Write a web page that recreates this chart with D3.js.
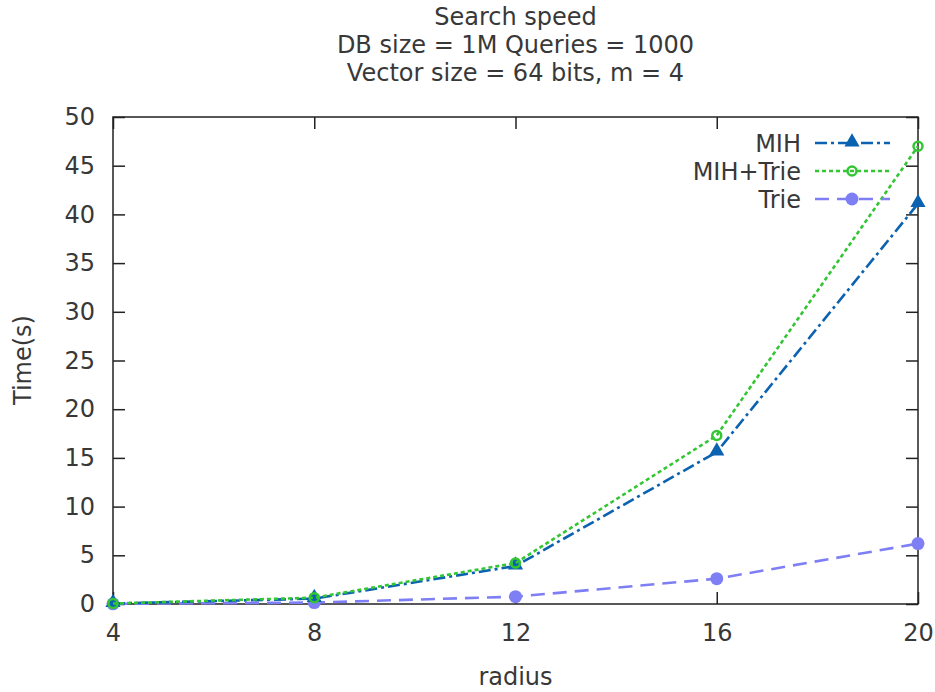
<!DOCTYPE html>
<html>
<head>
<meta charset="utf-8">
<script src="https://cdn.jsdelivr.net/npm/d3@7"></script>
<style>
  body { margin: 0; background: #fff; }
  text { font-family: "DejaVu Sans", sans-serif; fill: #383838; }
</style>
</head>
<body>
<svg id="chart" width="935" height="692"></svg>
<script>
// data
const radius = [4, 8, 12, 16, 20];
const mih = [0.05, 0.55, 3.9, 15.6, 41.1];
const mihTrie = [0.05, 0.65, 4.2, 17.3, 47.0];
const trie = [0.02, 0.15, 0.75, 2.6, 6.2];
const yTicks = [0, 5, 10, 15, 20, 25, 30, 35, 40, 45, 50];
const titleLines = ['Search speed', 'DB size = 1M Queries = 1000', 'Vector size = 64 bits, m = 4'];

const series = [
  { name: 'MIH', values: mih, color: '#0a62b0', dash: '12,4,3,4', marker: 'triangle' },
  { name: 'MIH+Trie', values: mihTrie, color: '#33c633', dash: '4,3', marker: 'ring' },
  { name: 'Trie', values: trie, color: '#7f7ff5', dash: '14,8', marker: 'dot' }
];

const margin = { left: 113, right: 17, top: 117, bottom: 88 };
const width = 935, height = 692;
const fs = 24;

const svg = d3.select('#chart');

const x = d3.scaleLinear().domain([4, 20]).range([margin.left, width - margin.right]);
const y = d3.scaleLinear().domain([0, 50]).range([height - margin.bottom, margin.top]);

// title
svg.append('g')
  .selectAll('text')
  .data(titleLines)
  .join('text')
    .attr('x', (margin.left + width - margin.right) / 2)
    .attr('y', function(d, i) { return 25 + i * 28; })
    .attr('text-anchor', 'middle')
    .attr('font-size', fs)
    .text(function(d) { return d; });

// axes with inward ticks, mirrored on top/right
const tickLen = 12;
function styleAxis(g) {
  g.select('.domain').remove();
  g.selectAll('text').attr('font-size', fs).attr('font-family', 'DejaVu Sans').attr('fill', '#383838');
  g.selectAll('line').attr('stroke', '#222').attr('stroke-width', 1.5);
}
svg.append('g')
  .attr('transform', 'translate(0,' + y(0) + ')')
  .call(d3.axisBottom(x).tickValues(radius).tickSize(-tickLen).tickPadding(20))
  .call(styleAxis);
svg.append('g')
  .attr('transform', 'translate(0,' + y(50) + ')')
  .call(d3.axisTop(x).tickValues(radius).tickSize(-tickLen).tickFormat(''))
  .call(styleAxis);
svg.append('g')
  .attr('transform', 'translate(' + x(4) + ',0)')
  .call(d3.axisLeft(y).tickValues(yTicks).tickSize(-tickLen).tickPadding(18))
  .call(styleAxis);
svg.append('g')
  .attr('transform', 'translate(' + x(20) + ',0)')
  .call(d3.axisRight(y).tickValues(yTicks).tickSize(-tickLen).tickFormat(''))
  .call(styleAxis);

svg.append('rect')
  .attr('x', x(4)).attr('y', y(50))
  .attr('width', x(20) - x(4)).attr('height', y(0) - y(50))
  .attr('fill', 'none').attr('stroke', '#222').attr('stroke-width', 1.5);

// axis labels
svg.append('text')
  .attr('x', (x(4) + x(20)) / 2).attr('y', 685)
  .attr('text-anchor', 'middle').attr('font-size', fs)
  .text('radius');
svg.append('text')
  .attr('transform', 'translate(31,360) rotate(-90)')
  .attr('text-anchor', 'middle').attr('font-size', fs)
  .text('Time(s)');

const line = d3.line()
  .x(function(d, i) { return x(radius[i]); })
  .y(function(d) { return y(d); });

function drawMarker(g, type, color) {
  if (type === 'triangle') {
    g.append('path').attr('d', d3.symbol(d3.symbolTriangle, 100)()).attr('fill', color).attr('transform', 'translate(0,-1)');
  } else if (type === 'ring') {
    g.append('circle').attr('r', 4.5).attr('fill', 'none').attr('stroke', color).attr('stroke-width', 2.5);
  } else {
    g.append('circle').attr('r', 6.5).attr('fill', color);
  }
}

// draw Trie first, then MIH, then MIH+Trie on top
[series[2], series[0], series[1]].forEach(function(s) {
  svg.append('path')
    .datum(s.values)
    .attr('d', line)
    .attr('fill', 'none')
    .attr('stroke', s.color)
    .attr('stroke-width', 2.6)
    .attr('stroke-dasharray', s.dash);
  s.values.forEach(function(v, i) {
    const g = svg.append('g').attr('transform', 'translate(' + x(radius[i]) + ',' + y(v) + ')');
    drawMarker(g, s.marker, s.color);
  });
});

// legend
const legend = svg.append('g');
series.forEach(function(s, i) {
  const ly = 143 + i * 28;
  legend.append('text')
    .attr('x', 801).attr('y', ly + 9)
    .attr('text-anchor', 'end').attr('font-size', fs)
    .text(s.name);
  legend.append('line')
    .attr('x1', 815).attr('x2', 890)
    .attr('y1', ly).attr('y2', ly)
    .attr('stroke', s.color).attr('stroke-width', 2.6)
    .attr('stroke-dasharray', s.dash);
  const g = legend.append('g').attr('transform', 'translate(852,' + ly + ')');
  drawMarker(g, s.marker, s.color);
});
</script>
</body>
</html>
